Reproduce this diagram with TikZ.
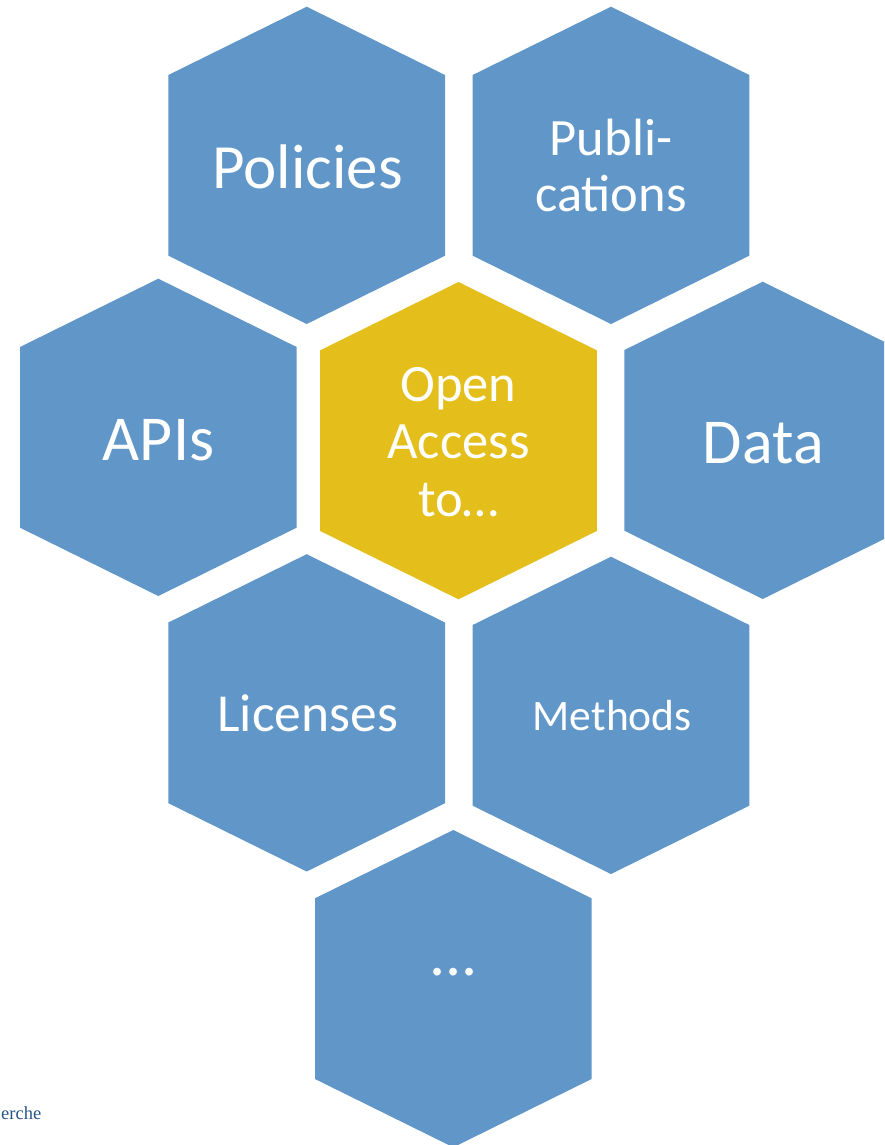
\documentclass[tikz,border=0pt]{standalone}
\usepackage{fontspec}
\setmainfont{Carlito}
\newfontfamily\serifcut{Liberation Serif}
\definecolor{hexblue}{RGB}{96,150,200}
\definecolor{hexgold}{RGB}{228,191,28}
\definecolor{cutblue}{RGB}{40,85,135}
\newcommand\hexcell[4]{%
  \fill[#4] (#2,#3) ++(0,-158.3) -- ++(138.3,68.3) -- ++(0,180.7) -- ++(-138.3,68.3) -- ++(-138.3,-68.3) -- ++(0,-180.7) -- cycle;
  \coordinate (#1) at (#2,#3);
}
\tikzset{
  lbl/.style={text=white, inner sep=0pt, anchor=base, align=center},
}
\begin{document}
\begin{tikzpicture}[x=1pt,y=-1pt]
\useasboundingbox (0,0) rectangle (884,1145);
\clip (0,0) rectangle (884,1145);
\hexcell{hpol}{306.7}{165}{hexblue}
\hexcell{hpub}{611}{165}{hexblue}
\hexcell{hapi}{158.3}{437}{hexblue}
\hexcell{hoa}{458.5}{440.3}{hexgold}
\hexcell{hdat}{762.7}{440}{hexblue}
\hexcell{hlic}{306.7}{712.5}{hexblue}
\hexcell{hmet}{611}{715}{hexblue}
\hexcell{hdots}{453.3}{988.3}{hexblue}

\node[lbl, font=\fontsize{63}{63}\selectfont] (policies) at (307.5,188.3) {Policies};
\node[lbl, font=\fontsize{52.5}{56.7}\selectfont] (pub) at (611,211.7) {Publi-\\cations};
\node[lbl, font=\fontsize{64}{64}\selectfont] (apis) at (158.5,460.7) {APIs};
\node[lbl, font=\fontsize{52.5}{57.8}\selectfont] (oa) at (458.5,516.7) {Open\\Access\\to…};
\node[lbl, font=\fontsize{64}{64}\selectfont] (data) at (763.3,463.3) {Data};
\node[lbl, font=\fontsize{53.5}{53.5}\selectfont] (lic) at (307.8,731.7) {Licenses};
\node[lbl, font=\fontsize{43.5}{43.5}\selectfont] (met) at (612.2,730.7) {Methods};
\node[lbl, font=\fontsize{64}{64}\selectfont] (dots) at (453.3,975) {...};
\node[anchor=base west, inner sep=0pt, text=cutblue, font=\serifcut\fontsize{18.5}{18.5}\selectfont] (cut) at (1,1119) {erche};
\end{tikzpicture}
\end{document}
